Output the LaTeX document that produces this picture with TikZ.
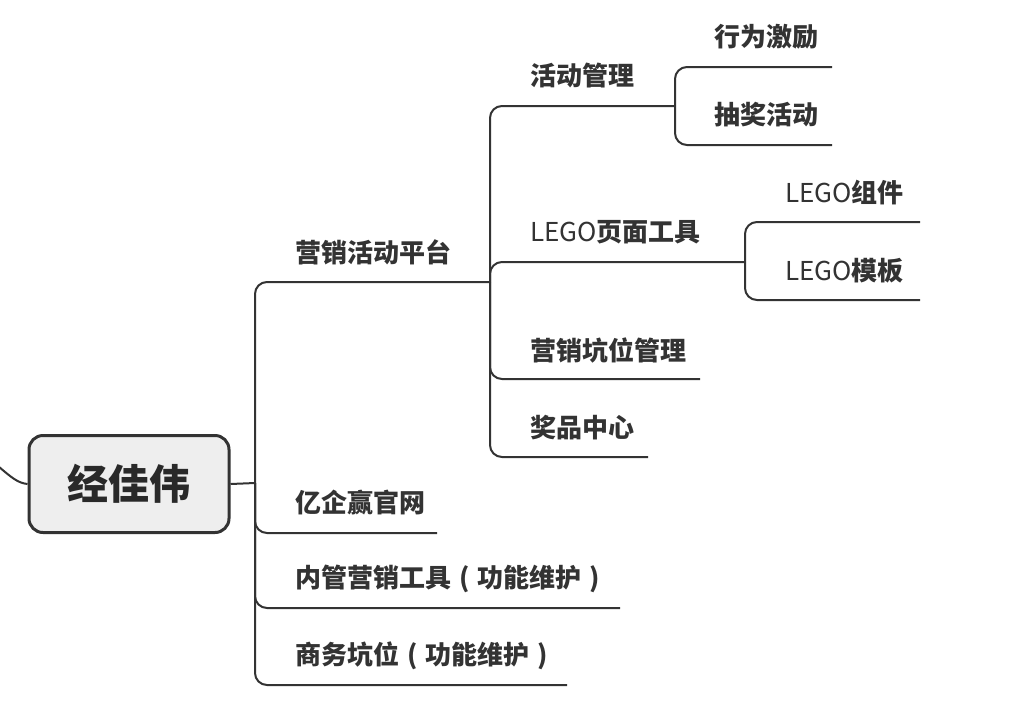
\documentclass[tikz,border=0pt]{standalone}
\usepackage{fontspec}
\newfontfamily\cjk{Noto Sans CJK SC}
\definecolor{ink}{HTML}{333333}
\definecolor{rootfill}{HTML}{EEEEEE}
\newcommand\kuohao[1]{\makebox[1em]{#1}}
\tikzset{
  branch/.style={draw=ink, line width=2pt, rounded corners=12pt},
  topic/.style={anchor=west, inner sep=0pt, text=ink,
    font=\cjk\bfseries\fontsize{26}{26}\selectfont},
  rootbox/.style={draw=ink, fill=rootfill, line width=3pt, rounded corners=14pt,
    minimum width=200pt, minimum height=97pt, inner sep=0pt, text=ink!80!black,
    font=\cjk\bfseries\fontsize{41}{41}\selectfont}
}
\begin{document}
\begin{tikzpicture}[x=1pt, y=-1pt]
\useasboundingbox (0,0) rectangle (1024,716);
% root
\node[rootbox] (root) at (129,484) {经佳伟};
\coordinate (stub) at (-2,466);
\draw[branch] (stub) .. controls (12,478) and (18,483) .. (root.west);
\coordinate (jroot) at (255,483);
\draw[branch] (root.east) -- (jroot);
% level 1
\coordinate (e-pingtai) at (490,282);
\coordinate (e-guanwang) at (437,533);
\coordinate (e-neiguan) at (620,608);
\coordinate (e-shangwu) at (567,685);
\node[topic] (pingtai) at (295,252) {营销活动平台};
\node[topic] (guanwang) at (295,503) {亿企赢官网};
\node[topic] (neiguan) at (295,579) {内管营销工具\kuohao{(}功能维护\kuohao{)}};
\node[topic] (shangwu) at (295,656) {商务坑位\kuohao{(}功能维护\kuohao{)}};
\draw[branch] (jroot) |- (e-pingtai);
\draw[branch] (jroot) |- (e-guanwang);
\draw[branch] (jroot) |- (e-neiguan);
\draw[branch] (jroot) |- (e-shangwu);
% level 2
\coordinate (e-huodong) at (675,106);
\coordinate (e-lego) at (745,262);
\coordinate (e-kengwei) at (700,379);
\coordinate (e-jiangpin) at (648,457);
\node[topic] (huodong) at (530,76) {活动管理};
\node[topic] (lego) at (530,232) {{\mdseries LEGO}页面工具};
\node[topic] (kengwei) at (530,350) {营销坑位管理};
\node[topic] (jiangpin) at (530,428) {奖品中心};
\draw[branch] (e-pingtai) |- (e-huodong);
\draw[branch] (e-pingtai) |- (e-lego);
\draw[branch] (e-pingtai) |- (e-kengwei);
\draw[branch] (e-pingtai) |- (e-jiangpin);
% level 3
\coordinate (e-jili) at (832,67);
\coordinate (e-choujiang) at (832,145);
\coordinate (e-zujian) at (920,222);
\coordinate (e-moban) at (920,300);
\node[topic] (jili) at (714,37) {行为激励};
\node[topic] (choujiang) at (714,115) {抽奖活动};
\node[topic] (zujian) at (785,193) {{\mdseries LEGO}组件};
\node[topic] (moban) at (785,271) {{\mdseries LEGO}模板};
\draw[branch] (e-huodong) |- (e-jili);
\draw[branch] (e-huodong) |- (e-choujiang);
\draw[branch] (e-lego) |- (e-zujian);
\draw[branch] (e-lego) |- (e-moban);
\end{tikzpicture}
\end{document}
